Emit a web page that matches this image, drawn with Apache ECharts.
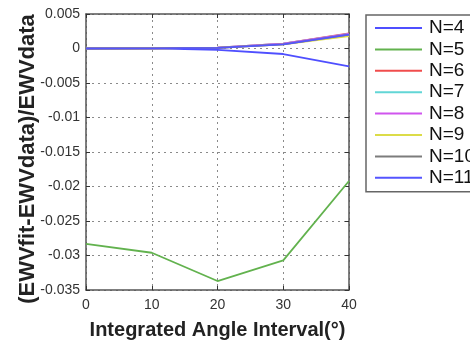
<!DOCTYPE html>
<html>
<head>
<meta charset="utf-8">
<script src="https://cdn.jsdelivr.net/npm/echarts@6/dist/echarts.min.js"></script>
<style>
  html, body { margin: 0; padding: 0; background: #fff; }
  #chart { width: 470px; height: 345px; }
</style>
</head>
<body>
<div id="chart"></div>
<script>
// Integration interval (degrees)
const angles = [0, 10, 20, 30, 40];

// Relative fit error (EWVfit - EWVdata) / EWVdata for each model order N
const seriesNames = ['N=4', 'N=5', 'N=6', 'N=7', 'N=8', 'N=9', 'N=10', 'N=11'];
const errN4  = [0, 0.00002, -0.0002, -0.0008, -0.0026];
const errN5  = [-0.0283, -0.0296, -0.0337, -0.0307, -0.0192];
const errN6  = [0, 0.00003, 0.00012, 0.0007, 0.0022];
const errN7  = [0, 0.00002, 0.00011, 0.0007, 0.0021];
const errN8  = [0, 0.00002, 0.00011, 0.0007, 0.0021];
const errN9  = [0, 0.00002, 0.0001, 0.0006, 0.0018];
const errN10 = [0, 0.00002, 0.0001, 0.0006, 0.0020];
const errN11 = [0, 0.00002, 0.0001, 0.0006, 0.0020];
const seriesValues = [errN4, errN5, errN6, errN7, errN8, errN9, errN10, errN11];

const colors = ['#4f4fff', '#62b24e', '#f04c4c', '#62d6d6', '#d055ee', '#dcdc48', '#7c7c7c', '#5555ff'];

const yTicks = { min: -0.035, max: 0.005, step: 0.005 };
const xTicks = { min: 0, max: 40, step: 10 };

const chart = echarts.init(document.getElementById('chart'), null, { renderer: 'canvas' });

const gridLine = { show: true, lineStyle: { color: '#8a8a8a', type: [2, 4], width: 1 } };
const frame = { show: true, onZero: false, lineStyle: { color: '#555', width: 1.5 } };
const tickIn = { show: true, inside: true, length: 4, lineStyle: { color: '#333', width: 1 } };

const series = seriesNames.map((name, i) => ({
  name: name,
  type: 'line',
  data: angles.map((a, j) => [a, seriesValues[i][j]]),
  symbol: 'none',
  lineStyle: { width: 1.8, color: colors[i] },
  itemStyle: { color: colors[i] },
  xAxisIndex: 0,
  yAxisIndex: 0,
  z: 3 + i
}));

chart.setOption({
  animation: false,
  backgroundColor: '#fff',
  grid: { left: 86, right: 121, top: 14, bottom: 50, containLabel: false },
  legend: {
    data: seriesNames,
    orient: 'vertical',
    left: 366,
    top: 15,
    icon: 'rect',
    itemWidth: 47,
    itemHeight: 2,
    itemGap: 0.4,
    padding: [2.5, 60, 3.5, 9],
    borderColor: '#666',
    borderWidth: 1.5,
    backgroundColor: '#fff',
    textStyle: { fontFamily: 'Liberation Sans, Arial, sans-serif', fontSize: 19, color: '#111', lineHeight: 21, padding: [0, 0, 0, 2] }
  },
  xAxis: [
    {
      type: 'value', min: xTicks.min, max: xTicks.max, interval: xTicks.step,
      name: 'Integrated Angle Interval(°)',
      nameLocation: 'middle', nameGap: 30, nameMoveOverlap: false,
      nameTextStyle: { fontFamily: 'Liberation Sans, Arial, sans-serif', fontSize: 20, fontWeight: 'bold', color: '#222' },
      axisLine: frame, axisTick: tickIn, splitLine: gridLine,
      axisLabel: { margin: 8, fontFamily: 'Liberation Sans, Arial, sans-serif', fontSize: 14, color: '#333' }
    },
    {
      type: 'value', min: xTicks.min, max: xTicks.max, interval: xTicks.step, position: 'top',
      axisLine: frame, axisTick: tickIn, splitLine: { show: false }, axisLabel: { show: false }
    }
  ],
  yAxis: [
    {
      type: 'value', min: yTicks.min, max: yTicks.max, interval: yTicks.step,
      name: '(EWVfit-EWVdata)/EWVdata',
      nameLocation: 'middle', nameGap: 47, nameRotate: 90, nameMoveOverlap: false,
      nameTextStyle: {
        fontFamily: 'Liberation Sans, Arial, sans-serif', fontSize: 22, fontWeight: 'bold', color: '#222',
        padding: [0, 14, 0, 0]
      },
      axisLine: frame, axisTick: tickIn, splitLine: gridLine,
      axisLabel: {
        margin: 6, fontFamily: 'Liberation Sans, Arial, sans-serif', fontSize: 14, color: '#333',
        formatter: v => String(Number(v.toFixed(3)))
      }
    },
    {
      type: 'value', min: yTicks.min, max: yTicks.max, interval: yTicks.step, position: 'right',
      axisLine: frame, axisTick: tickIn, splitLine: { show: false }, axisLabel: { show: false }
    }
  ],
  series: series
});
</script>
</body>
</html>
